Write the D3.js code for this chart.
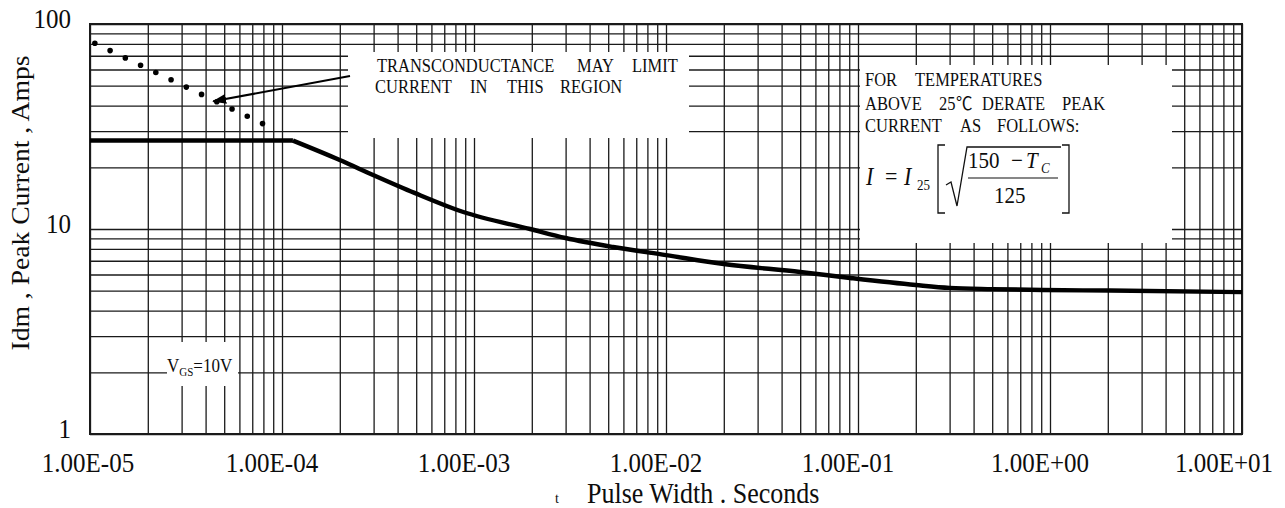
<!DOCTYPE html>
<html><head><meta charset="utf-8">
<script src="https://cdn.jsdelivr.net/npm/d3@7"></script>
<style>
html,body{margin:0;padding:0;background:#fff;}
svg{display:block;}
text{font-family:"Liberation Serif","Times New Roman",serif;fill:#0d0d0d;}
</style></head><body>
<svg id="chart" width="1285" height="508"></svg>
<script>
// ---- data ----
const pulseWidth  = [1e-5, 1.14e-4, 2e-4, 3e-4, 4.9e-4, 8.8e-4, 1.96e-3, 3e-3, 5.3e-3, 1.0e-2, 2.0e-2, 5.0e-2, 9.1e-2, 0.2, 0.3, 0.5, 0.92, 2.05, 10];
const peakCurrent = [27, 27, 21.7, 18.3, 15.0, 12.1, 10.0, 9.04, 8.17, 7.46, 6.75, 6.17, 5.77, 5.33, 5.16, 5.09, 5.04, 5.01, 4.92];
const limitWidth   = [1.06e-5, 9.5e-5];
const limitCurrent = [80.5, 30.1];
const arrowWidth   = [2.26e-4, 4.38e-5];
const arrowCurrent = [55.7, 42];
const xTickValues = [1e-5, 1e-4, 1e-3, 1e-2, 1e-1, 1, 10];
const xTickLabels = ["1.00E-05","1.00E-04","1.00E-03","1.00E-02","1.00E-01","1.00E+00","1.00E+01"];
const yTickValues = [1, 10, 100];
const yTickLabels = ["1", "10", "100"];

// ---- layout ----
const L = 90, R = 1242, T = 24, B = 434;
const svg = d3.select("#chart");
const x = d3.scaleLog().domain([1e-5, 10]).range([L, R]);
const y = d3.scaleLog().domain([1, 100]).range([B, T]);
const SY = 1.1; // vertical stretch of the original lettering
const INK = "#1a1a1a";

// grid via axes
const gx = svg.append("g").attr("transform", `translate(0,${B})`)
  .call(d3.axisBottom(x).ticks(10).tickSize(-(B - T)).tickFormat(""));
const gy = svg.append("g").attr("transform", `translate(${L},0)`)
  .call(d3.axisLeft(y).ticks(10).tickSize(-(R - L)).tickFormat(""));
[gx, gy].forEach(g => {
  g.select(".domain").remove();
  g.selectAll(".tick line").attr("stroke", INK).attr("stroke-width", 1.3);
});
svg.append("rect").attr("x", L).attr("y", T).attr("width", R - L).attr("height", B - T)
  .attr("fill", "none").attr("stroke", INK).attr("stroke-width", 2);

// white annotation panels (interrupt the grid)
const panels = [[348, 52, 341, 86], [860, 65, 312, 178], [167, 342, 71, 44]];
panels.forEach(p => svg.append("rect").attr("x", p[0]).attr("y", p[1])
  .attr("width", p[2]).attr("height", p[3]).attr("fill", "#fff"));

// dotted transconductance limit
const lim = limitWidth.map((t, i) => [t, limitCurrent[i]]);
svg.append("path").datum(lim)
  .attr("d", d3.line().x(d => x(d[0])).y(d => y(d[1])))
  .attr("fill", "none").attr("stroke", "#000").attr("stroke-width", 5.6)
  .attr("stroke-linecap", "round").attr("stroke-dasharray", "0 16.9");

// main curve
const pts = pulseWidth.map((t, i) => [t, peakCurrent[i]]);
svg.append("path").datum(pts.slice(0, 2))
  .attr("d", d3.line().x(d => x(d[0])).y(d => y(d[1])))
  .attr("fill", "none").attr("stroke", "#000").attr("stroke-width", 4.6);
svg.append("path").datum(pts.slice(1))
  .attr("d", d3.line().x(d => x(d[0])).y(d => y(d[1])).curve(d3.curveMonotoneX))
  .attr("fill", "none").attr("stroke", "#000").attr("stroke-width", 4.4)
  .attr("stroke-linejoin", "round");

// arrow
svg.append("defs").append("marker").attr("id", "ah")
  .attr("markerUnits", "userSpaceOnUse").attr("markerWidth", 14).attr("markerHeight", 10)
  .attr("refX", 13).attr("refY", 5).attr("orient", "auto")
  .append("path").attr("d", "M0,0 L14,5 L0,10 Z").attr("fill", "#000");
const arr = arrowWidth.map((t, i) => [t, arrowCurrent[i]]);
svg.append("path").datum(arr)
  .attr("d", d3.line().x(d => x(d[0])).y(d => y(d[1])))
  .attr("stroke", "#000").attr("stroke-width", 2).attr("marker-end", "url(#ah)");

// text helper
function txt(xp, yp, str, size, opts = {}) {
  const t = svg.append("text")
    .attr("transform", `translate(0,${yp}) scale(1,${opts.sy || SY})`)
    .attr("x", xp).attr("y", 0)
    .attr("font-size", size)
    .attr("text-anchor", opts.anchor || "start");
  if (opts.italic) t.attr("font-style", "italic");
  if (str !== null) t.text(str);
  return t;
}
function words(list, yp, size) {
  const t = txt(0, yp, null, size);
  list.forEach(w => {
    const s = t.append("tspan").attr("x", w[1]).text(w[0]);
    if (w[2]) s.attr("font-family", w[2]);
  });
}

// tick labels
xTickValues.forEach((v, i) => {
  const last = i === xTickValues.length - 1;
  txt(x(v) + (last ? 31 : (i === 0 ? -2 : -10)), 472, xTickLabels[i], 25,
      { anchor: last ? "end" : "middle" });
});
yTickValues.forEach((v, i) => txt(71, y(v) + 4, yTickLabels[i], 25, { anchor: "end" }));

// axis titles
txt(587, 503, "Pulse Width . Seconds", 26);
txt(555, 503, "t", 14);
svg.append("text").attr("transform", "translate(29,203) rotate(-90)")
  .attr("text-anchor", "middle").attr("font-size", 25)
  .attr("textLength", 295).attr("lengthAdjust", "spacingAndGlyphs")
  .text("Idm , Peak Current , Amps");

// transconductance note
words([["TRANSCONDUCTANCE", 377], ["MAY", 577], ["LIMIT", 632]], 72, 16.5);
words([["CURRENT", 375], ["IN", 470], ["THIS", 507], ["REGION", 560]], 93, 16.5);

// derating note
words([["FOR", 865], ["TEMPERATURES", 915]], 86, 16.5);
words([["ABOVE", 865], ["25", 939], ["℃", 956, "Noto Sans CJK SC"], ["DERATE", 982], ["PEAK", 1062]], 110, 16.5);
words([["CURRENT", 865], ["AS", 960], ["FOLLOWS:", 997]], 132, 16.5);

// formula
txt(866, 185, "I", 22, { italic: true });
txt(885, 185, "=", 22);
txt(904, 185, "I", 22, { italic: true });
txt(917, 190, "25", 13);
txt(968, 168, "150", 21);
txt(1011, 168, "−", 21);
txt(1026, 168, "T", 21, { italic: true });
txt(1041, 173, "C", 13, { italic: true });
txt(994, 203, "125", 21);
svg.append("path").attr("d", "M968,178 H1058").attr("stroke", "#111").attr("stroke-width", 1.2);
svg.append("path").attr("d", "M946,185 L951,182 L957,206 L967,147 H1061")
  .attr("fill", "none").attr("stroke", "#111").attr("stroke-width", 1.3);
svg.append("path").attr("d", "M945,145 H938 V213 H945")
  .attr("fill", "none").attr("stroke", "#111").attr("stroke-width", 1.3);
svg.append("path").attr("d", "M1062,145 H1069 V213 H1062")
  .attr("fill", "none").attr("stroke", "#111").attr("stroke-width", 1.3);

// gate voltage label
const vg = txt(167, 372, null, 17);
vg.append("tspan").text("V");
vg.append("tspan").attr("font-size", 11).attr("dy", 4).text("GS");
vg.append("tspan").attr("dy", -4).text("=10V");
</script>
</body></html>
